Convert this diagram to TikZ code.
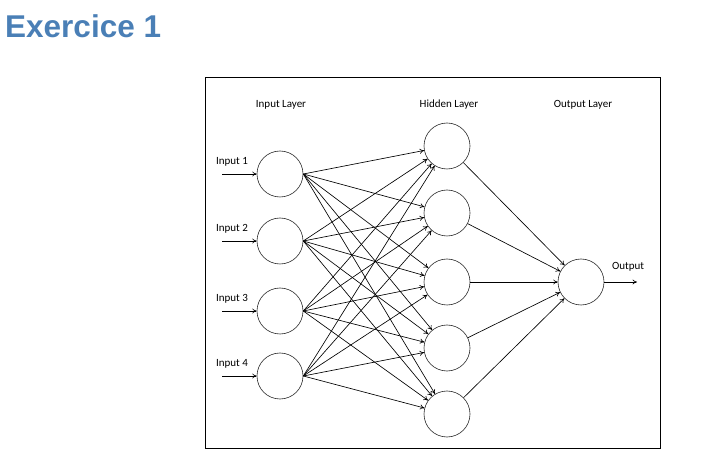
\documentclass[tikz,border=0pt]{standalone}
\usepackage{fontspec}
\setmainfont{Liberation Sans}
\newfontfamily\labelfont{Carlito}
\usetikzlibrary{arrows.meta}
\definecolor{titleblue}{RGB}{74,127,182}
\begin{document}
\begin{tikzpicture}[x=1pt,y=-1pt,
  neuron/.style={draw, circle, minimum size=46pt, inner sep=0pt, line width=0.6pt, draw=black!85},
  link/.style={-{To[length=4.5pt,width=5pt]}, line width=0.65pt},
  layerlabel/.style={font=\labelfont\fontsize{11}{13}\selectfont},
  inlabel/.style={font=\labelfont\fontsize{11}{13}\selectfont}]
\useasboundingbox (0,0) rectangle (710,470);
% heading
\node[anchor=base west, inner sep=0pt, text=titleblue,
      font=\bfseries\fontsize{31.5}{36}\selectfont] (title) at (5,38) {Exercice 1};
% frame
\draw[line width=0.8pt] (205,77) rectangle (660,448);
% layer captions
\node[layerlabel] (lin) at (281,105) {Input Layer};
\node[layerlabel] (lhid) at (449,105) {Hidden Layer};
\node[layerlabel] (lout) at (583,105) {Output Layer};
% input neurons
\foreach \k/\y in {1/174,2/241,3/311,4/376}{
  \node[neuron] (i\k) at (280,\y) {};
  \node[inlabel] (t\k) at (232,\y-12) {Input \k};
  \coordinate (s\k) at (222,\y);
  \draw[link] (s\k) -- (i\k);
}
% hidden neurons
\foreach \k/\y in {1/146,2/213,3/282,4/348,5/414}{
  \node[neuron] (h\k) at (447,\y) {};
}
% output neuron
\node[neuron] (o) at (581,282) {};
\node[inlabel] (tout) at (628,267) {Output};
\coordinate (oend) at (637,282);
\draw[link] (o.east) -- (oend);
% connections
\foreach \a in {1,...,4}{
  \foreach \b in {1,...,5}{
    \draw[link] (i\a.east) -- (h\b);
  }
}
\foreach \b in {1,...,5}{
  \draw[link] (h\b) -- (o);
}
\end{tikzpicture}
\end{document}
